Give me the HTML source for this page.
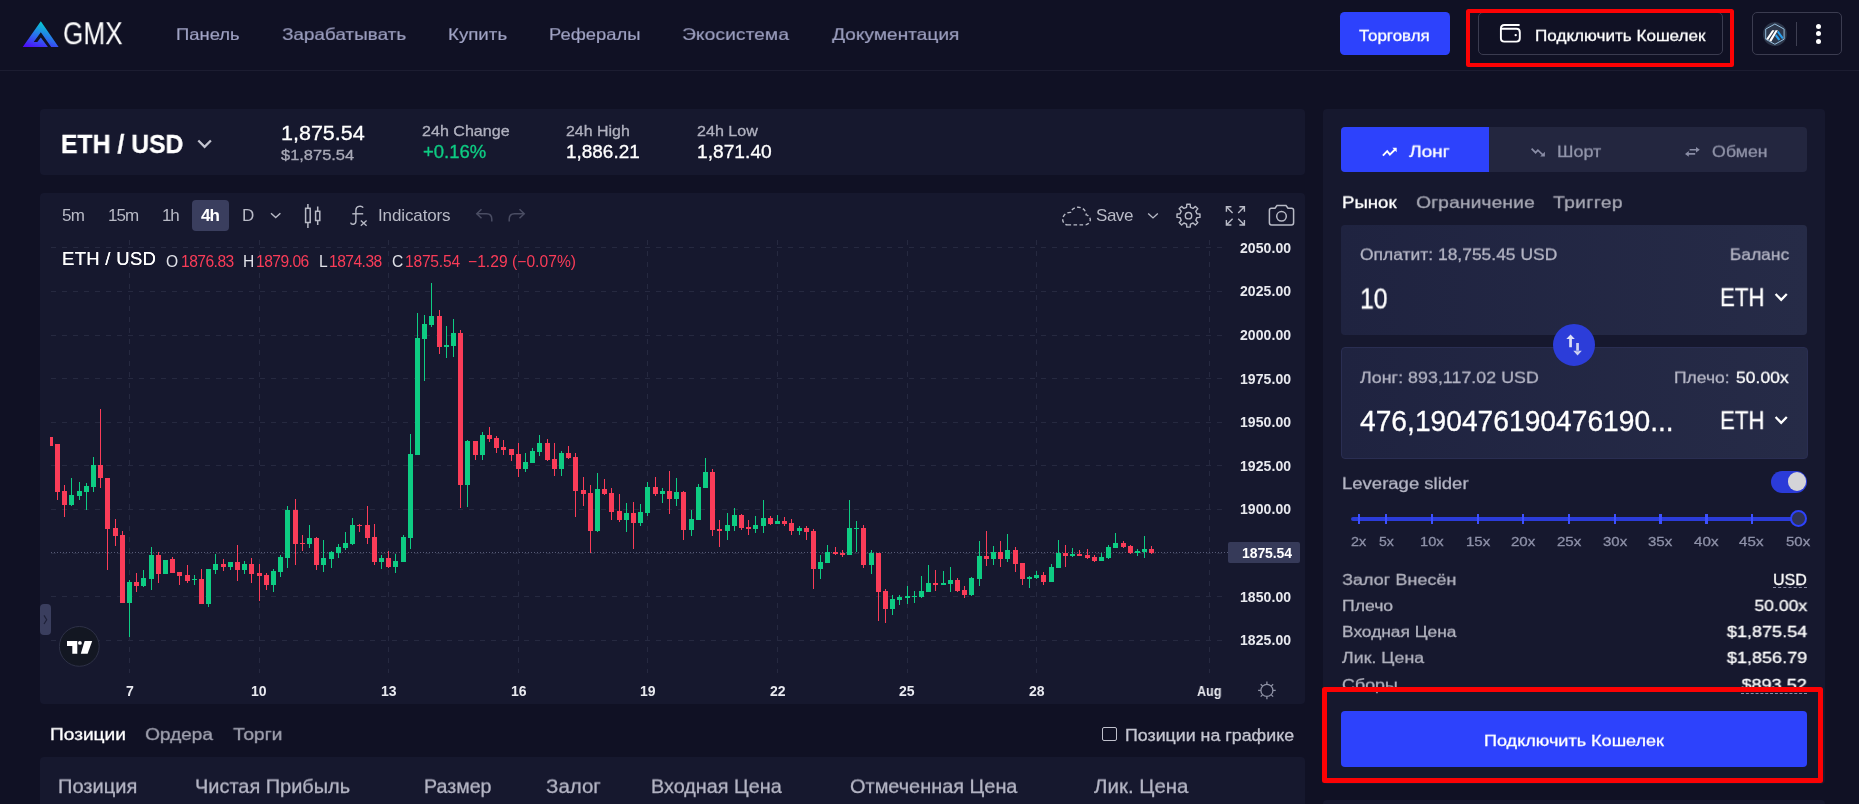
<!DOCTYPE html>
<html><head><meta charset="utf-8"><title>GMX</title>
<style>
html,body{margin:0;padding:0;}
html{width:1859px;height:804px;overflow:hidden;background:#101124;}
body{width:1859px;height:804px;overflow:hidden;background:#101124;position:relative;font-family:"Liberation Sans",sans-serif;}
.t{position:absolute;white-space:nowrap;line-height:1;will-change:transform;}
.r{position:absolute;display:block;}
</style></head><body>
<div class="r" style="left:0.00px;top:70.00px;width:1859.00px;height:1.00px;background:#1c1d31;"></div>
<svg class="r" style="left:22px;top:20px" width="38" height="28" viewBox="22 20 38 28">
<defs><linearGradient id="lg" x1="0.55" y1="0" x2="0.1" y2="1"><stop offset="0" stop-color="#03d1cf"/><stop offset="0.55" stop-color="#2c6bee"/><stop offset="1" stop-color="#4e09f8"/></linearGradient></defs>
<path fill="url(#lg)" fill-rule="evenodd" d="M40.82,21.3 L58.6,46.95 L22.75,46.95 Z M40.82,32.27 L33.72,41.96 L37.27,41.96 L40.82,37.44 L47.92,46.95 L51.15,46.95 Z"/></svg>
<div class="t" style="top:20.00px;font-size:28.5px;color:#ffffff;left:63.20px;transform:scale(0.9167,1.0684);transform-origin:0 24px;">GMX</div>
<div class="t" style="top:26.00px;font-size:16.5px;color:#a0a3c4;left:176.29px;transform:scale(1.1166,0.9799);transform-origin:0 14px;-webkit-text-stroke:0.18px #a0a3c4;">Панель</div>
<div class="t" style="top:26.00px;font-size:16.5px;color:#a0a3c4;left:282.09px;transform:scale(1.1454,0.9799);transform-origin:0 14px;-webkit-text-stroke:0.18px #a0a3c4;">Зарабатывать</div>
<div class="t" style="top:26.00px;font-size:16.5px;color:#a0a3c4;left:448.39px;transform:scale(1.1333,0.9799);transform-origin:0 14px;-webkit-text-stroke:0.18px #a0a3c4;">Купить</div>
<div class="t" style="top:26.00px;font-size:16.5px;color:#a0a3c4;left:549.29px;transform:scale(1.1139,0.9799);transform-origin:0 14px;-webkit-text-stroke:0.18px #a0a3c4;">Рефералы</div>
<div class="t" style="top:26.00px;font-size:16.5px;color:#a0a3c4;letter-spacing:0.101px;left:682.49px;transform:scale(1.1600,0.9799);transform-origin:0 14px;-webkit-text-stroke:0.18px #a0a3c4;">Экосистема</div>
<div class="t" style="top:26.00px;font-size:16.5px;color:#a0a3c4;left:831.59px;transform:scale(1.1593,0.9799);transform-origin:0 14px;-webkit-text-stroke:0.18px #a0a3c4;">Документация</div>
<div class="r" style="left:1340.00px;top:12.00px;width:110.00px;height:43.00px;background:#2d42fc;border-radius:4.5px;"></div>
<div class="t" style="top:28.00px;font-size:16px;color:#ffffff;left:1359.15px;transform:scale(1.0562,0.9333);transform-origin:0 13px;-webkit-text-stroke:0.3px #ffffff;">Торговля</div>
<div class="r" style="left:1478.00px;top:12.00px;width:245.00px;height:42.80px;background:transparent;border-radius:5px;border:1px solid #3b3c50;box-sizing:border-box;"></div>
<svg class="r" style="left:1498px;top:22px" width="26" height="23" viewBox="1498 22 26 23" fill="none" stroke="#fff" stroke-width="1.9">
<path d="M1519.6,25 H1504.4 C1502.2,25 1500.9,26.4 1500.9,28.6 V38.2 C1500.9,40.4 1502.2,41.6 1504.4,41.6 H1516.4 C1518.6,41.6 1519.8,40.4 1519.8,38.2 V32.2 C1519.8,30 1518.6,28.8 1516.4,28.8 H1501.4"/><circle cx="1515.7" cy="35.1" r="1.2" fill="#fff" stroke="none"/></svg>
<div class="t" style="top:28.00px;font-size:16px;color:#ffffff;left:1534.75px;transform:scale(1.0685,0.9333);transform-origin:0 13px;-webkit-text-stroke:0.3px #ffffff;">Подключить Кошелек</div>
<div class="r" style="left:1752.00px;top:12.00px;width:90.00px;height:42.80px;background:transparent;border-radius:5px;border:1px solid #3b3c50;box-sizing:border-box;"></div>
<svg class="r" style="left:1762px;top:21px" width="26" height="26" viewBox="1762 21 26 26">
<circle cx="1774.9" cy="34.15" r="11.9" fill="#2d374b"/>
<path d="M1774.9,24 L1784.1,29.1 V39.2 L1774.9,44.3 L1765.7,39.2 V29.1 Z" fill="none" stroke="#96bedc" stroke-width="1"/>
<path d="M1777.1,32.3 L1778.4,30.7 L1783.4,37.6 L1782.2,39.2 Z M1775,35.9 L1776.3,34.2 L1780.3,39.4 L1778.4,40.4 Z" fill="#28a0f0"/>
<path d="M1772.2,30.2 H1774.5 L1768.1,40 L1766.2,38.9 Z M1775.6,30.2 H1777.9 L1771.2,41.7 L1769.2,40.6 Z" fill="#fff"/>
</svg>
<div class="r" style="left:1795.80px;top:22.20px;width:1.20px;height:23.60px;background:#3e3f52;"></div>
<div class="r" style="left:1816.30px;top:24.10px;width:5.20px;height:5.20px;background:#ffffff;border-radius:2.6px;"></div>
<div class="r" style="left:1816.30px;top:31.30px;width:5.20px;height:5.20px;background:#ffffff;border-radius:2.6px;"></div>
<div class="r" style="left:1816.30px;top:38.50px;width:5.20px;height:5.20px;background:#ffffff;border-radius:2.6px;"></div>
<div class="r" style="left:1465.80px;top:9.00px;width:268.20px;height:58.10px;background:transparent;border-radius:2.5px;border:4.9px solid #fc0204;box-sizing:border-box;"></div>
<div class="r" style="left:40.00px;top:109.00px;width:1265.00px;height:65.70px;background:#16182e;border-radius:4px;"></div>
<div class="t" style="top:131.00px;font-size:26px;color:#ffffff;font-weight:700;left:60.65px;transform:scale(0.9519,1.0000);transform-origin:0 22px;-webkit-text-stroke:0.3px #ffffff;">ETH / USD</div>
<svg class="r" style="left:195px;top:137px" width="20" height="14" viewBox="195 137 20 14" fill="none" stroke="#c3c4d0" stroke-width="2.3"><path d="M198.3,140.5 L204.6,146.8 L210.9,140.5"/></svg>
<div class="t" style="top:124.00px;font-size:19.5px;color:#ffffff;left:281.35px;transform:scale(1.1032,1.0000);transform-origin:0 16px;-webkit-text-stroke:0.3px #ffffff;">1,875.54</div>
<div class="t" style="top:147.00px;font-size:15.5px;color:#a9aab8;left:281.35px;transform:scale(1.0605,1.0000);transform-origin:0 13px;-webkit-text-stroke:0.3px #a9aab8;">$1,875.54</div>
<div class="t" style="top:123.00px;font-size:15px;color:#b0b1bf;left:421.95px;transform:scale(1.0722,1.0000);transform-origin:0 13px;-webkit-text-stroke:0.3px #b0b1bf;">24h Change</div>
<div class="t" style="top:144.00px;font-size:17.5px;color:#0ecc83;left:422.65px;transform:scale(1.0554,1.0000);transform-origin:0 14px;-webkit-text-stroke:0.3px #0ecc83;">+0.16%</div>
<div class="t" style="top:123.00px;font-size:15px;color:#b0b1bf;left:566.15px;transform:scale(1.0617,1.0000);transform-origin:0 13px;-webkit-text-stroke:0.3px #b0b1bf;">24h High</div>
<div class="t" style="top:144.00px;font-size:17.5px;color:#ffffff;left:566.15px;transform:scale(1.0825,1.0000);transform-origin:0 14px;-webkit-text-stroke:0.3px #ffffff;">1,886.21</div>
<div class="t" style="top:123.00px;font-size:15px;color:#b0b1bf;left:697.15px;transform:scale(1.0746,1.0000);transform-origin:0 13px;-webkit-text-stroke:0.3px #b0b1bf;">24h Low</div>
<div class="t" style="top:144.00px;font-size:17.5px;color:#ffffff;left:697.15px;transform:scale(1.0971,1.0000);transform-origin:0 14px;-webkit-text-stroke:0.3px #ffffff;">1,871.40</div>
<div class="r" style="left:40.00px;top:192.70px;width:1265.00px;height:511.80px;background:#16182e;border-radius:4px;"></div>
<div class="t" style="top:207.00px;font-size:17px;color:#b8bac6;letter-spacing:-0.641px;left:61.70px;">5m</div>
<div class="t" style="top:207.00px;font-size:17px;color:#b8bac6;letter-spacing:-0.902px;left:107.80px;">15m</div>
<div class="t" style="top:207.00px;font-size:17px;color:#b8bac6;letter-spacing:-1.259px;left:161.70px;">1h</div>
<div class="r" style="left:192.00px;top:200.00px;width:36.80px;height:30.80px;background:#3a3e5e;border-radius:4px;"></div>
<div class="t" style="top:207.00px;font-size:17px;color:#ffffff;font-weight:700;letter-spacing:-1.022px;left:200.80px;">4h</div>
<div class="t" style="top:207.00px;font-size:17px;color:#b8bac6;left:241.70px;">D</div>
<svg class="r" style="left:268px;top:210px" width="16" height="10" viewBox="268 210 16 10" fill="none" stroke="#b8bac6" stroke-width="1.4"><path d="M271,213.2 L275.7,217.6 L280.4,213.2"/></svg>
<svg class="r" style="left:302px;top:202px" width="22" height="28" viewBox="302 202 22 28" fill="none" stroke="#b8bac6" stroke-width="1.5">
<rect x="305.6" y="208.3" width="4.6" height="14.2"/><path d="M307.9,204 V208.3 M307.9,222.5 V228"/>
<rect x="315.6" y="211.3" width="4.2" height="9.2"/><path d="M317.7,206.5 V211.3 M317.7,220.5 V225"/></svg>
<svg class="r" style="left:348px;top:203px" width="22" height="26" viewBox="348 203 22 26" fill="none" stroke="#b8bac6" stroke-width="1.4">
<path d="M350.6,222.6 C351,224.6 355.9,225.4 355.9,221 V210.2 C355.9,205.6 361.5,205.4 363.2,207.6"/><path d="M352.3,213.8 H363.2"/>
<path d="M360.8,220.4 L366.6,225.8 M366.6,220.4 L360.8,225.8" stroke-width="1.3"/></svg>
<div class="t" style="top:207.00px;font-size:17px;color:#b8bac6;letter-spacing:-0.120px;left:378.30px;">Indicators</div>
<svg class="r" style="left:474px;top:206px" width="54" height="20" viewBox="474 206 54 20" fill="none" stroke="#4a4d63" stroke-width="1.5">
<path d="M481.5,209.3 L476.8,213.8 L481.5,218.3"/><path d="M476.8,213.8 H486.5 C490.3,213.8 491.8,216.5 491.8,219.3 V221.5"/>
<path d="M519.5,209.3 L524.2,213.8 L519.5,218.3"/><path d="M524.2,213.8 H514.5 C510.7,213.8 509.2,216.5 509.2,219.3 V221.5"/></svg>
<svg class="r" style="left:1059px;top:203px" width="34" height="26" viewBox="1059 203 34 26" fill="none" stroke="#b8bac6" stroke-width="1.4" stroke-dasharray="3.6 2.4">
<path d="M1067.5,224.9 H1084.6 C1091.5,224.9 1092.3,216.3 1086.2,214.9 C1085.8,206 1073.5,204.3 1070.6,212.4 C1061.6,212 1059.8,224 1067.5,224.9 Z"/></svg>
<div class="t" style="top:207.00px;font-size:17px;color:#b8bac6;letter-spacing:-0.460px;left:1096.00px;">Save</div>
<svg class="r" style="left:1145px;top:210px" width="16" height="10" viewBox="1145 210 16 10" fill="none" stroke="#b8bac6" stroke-width="1.4"><path d="M1148.2,213.4 L1153,217.9 L1157.8,213.4"/></svg>
<svg class="r" style="left:1174px;top:201px" width="30" height="30" viewBox="1174 201 30 30" fill="none" stroke="#b8bac6" stroke-width="1.4" stroke-linejoin="round">
<path d="M1186.57,207.32 L1186.80,204.23 L1190.20,204.23 L1190.43,207.32 L1193.07,208.41 L1195.41,206.38 L1197.82,208.79 L1195.79,211.13 L1196.88,213.77 L1199.97,214.00 L1199.97,217.40 L1196.88,217.63 L1195.79,220.27 L1197.82,222.61 L1195.41,225.02 L1193.07,222.99 L1190.43,224.08 L1190.20,227.17 L1186.80,227.17 L1186.57,224.08 L1183.93,222.99 L1181.59,225.02 L1179.18,222.61 L1181.21,220.27 L1180.12,217.63 L1177.03,217.40 L1177.03,214.00 L1180.12,213.77 L1181.21,211.13 L1179.18,208.79 L1181.59,206.38 L1183.93,208.41 Z"/><circle cx="1188.5" cy="215.7" r="3.2"/></svg>
<svg class="r" style="left:1223px;top:203px" width="26" height="26" viewBox="1223 203 26 26" fill="none" stroke="#b8bac6" stroke-width="1.4">
<path d="M1226.4,211.8 V206.8 H1231.4 M1226.4,206.8 L1232.6,213"/><path d="M1239.4,206.8 H1244.4 V211.8 M1244.4,206.8 L1238.2,213"/>
<path d="M1226.4,220 V225 H1231.4 M1226.4,225 L1232.6,218.8"/><path d="M1239.4,225 H1244.4 V220 M1244.4,225 L1238.2,218.8"/></svg>
<svg class="r" style="left:1266px;top:202px" width="32" height="27" viewBox="1266 202 32 27" fill="none" stroke="#b8bac6" stroke-width="1.5">
<path d="M1271.5,208.3 H1275 L1277,205.5 H1286 L1288,208.3 H1291.5 C1292.8,208.3 1293.6,209.1 1293.6,210.4 V222.8 C1293.6,224.1 1292.8,224.9 1291.5,224.9 H1271.5 C1270.2,224.9 1269.4,224.1 1269.4,222.8 V210.4 C1269.4,209.1 1270.2,208.3 1271.5,208.3 Z"/><circle cx="1281.5" cy="216.3" r="4.8"/></svg>
<svg class="r" style="left:40px;top:236px" width="1265" height="468" viewBox="40 236 1265 468"><path d="M51,247.5 H1222" stroke="#262940" stroke-width="1" stroke-dasharray="5 6" fill="none"/><path d="M51,291.5 H1222" stroke="#262940" stroke-width="1" stroke-dasharray="5 6" fill="none"/><path d="M51,335.5 H1222" stroke="#262940" stroke-width="1" stroke-dasharray="5 6" fill="none"/><path d="M51,378.5 H1222" stroke="#262940" stroke-width="1" stroke-dasharray="5 6" fill="none"/><path d="M51,422.5 H1222" stroke="#262940" stroke-width="1" stroke-dasharray="5 6" fill="none"/><path d="M51,465.5 H1222" stroke="#262940" stroke-width="1" stroke-dasharray="5 6" fill="none"/><path d="M51,509.5 H1222" stroke="#262940" stroke-width="1" stroke-dasharray="5 6" fill="none"/><path d="M51,553.5 H1222" stroke="#262940" stroke-width="1" stroke-dasharray="5 6" fill="none"/><path d="M51,596.5 H1222" stroke="#262940" stroke-width="1" stroke-dasharray="5 6" fill="none"/><path d="M51,640.5 H1222" stroke="#262940" stroke-width="1" stroke-dasharray="5 6" fill="none"/><path d="M129.5,240 V673" stroke="#262940" stroke-width="1" stroke-dasharray="5 6" fill="none"/><path d="M259.5,240 V673" stroke="#262940" stroke-width="1" stroke-dasharray="5 6" fill="none"/><path d="M388.5,240 V673" stroke="#262940" stroke-width="1" stroke-dasharray="5 6" fill="none"/><path d="M518.5,240 V673" stroke="#262940" stroke-width="1" stroke-dasharray="5 6" fill="none"/><path d="M647.5,240 V673" stroke="#262940" stroke-width="1" stroke-dasharray="5 6" fill="none"/><path d="M777.5,240 V673" stroke="#262940" stroke-width="1" stroke-dasharray="5 6" fill="none"/><path d="M907.5,240 V673" stroke="#262940" stroke-width="1" stroke-dasharray="5 6" fill="none"/><path d="M1036.5,240 V673" stroke="#262940" stroke-width="1" stroke-dasharray="5 6" fill="none"/><path d="M1209.5,240 V673" stroke="#262940" stroke-width="1" stroke-dasharray="5 6" fill="none"/><path d="M51,552.5 H1228" stroke="#565a76" stroke-width="1" stroke-dasharray="1 2" fill="none"/><rect x="50" y="437" width="1" height="9" fill="#fa3c58"/><rect x="50" y="437" width="3" height="9" fill="#fa3c58"/><rect x="57" y="444" width="1" height="56" fill="#fa3c58"/><rect x="55" y="444" width="5" height="48" fill="#fa3c58"/><rect x="64" y="485" width="1" height="32" fill="#fa3c58"/><rect x="62" y="491" width="5" height="14" fill="#fa3c58"/><rect x="71" y="478" width="1" height="28" fill="#0ecc83"/><rect x="69" y="495" width="5" height="10" fill="#0ecc83"/><rect x="79" y="482" width="1" height="18" fill="#0ecc83"/><rect x="77" y="491" width="5" height="5" fill="#0ecc83"/><rect x="86" y="483" width="1" height="27" fill="#0ecc83"/><rect x="84" y="486" width="5" height="6" fill="#0ecc83"/><rect x="93" y="457" width="1" height="35" fill="#0ecc83"/><rect x="91" y="465" width="5" height="22" fill="#0ecc83"/><rect x="100" y="409" width="1" height="79" fill="#fa3c58"/><rect x="98" y="465" width="5" height="13" fill="#fa3c58"/><rect x="107" y="478" width="1" height="92" fill="#fa3c58"/><rect x="105" y="478" width="5" height="51" fill="#fa3c58"/><rect x="115" y="519" width="1" height="27" fill="#fa3c58"/><rect x="113" y="528" width="5" height="8" fill="#fa3c58"/><rect x="122" y="531" width="1" height="72" fill="#fa3c58"/><rect x="120" y="535" width="5" height="68" fill="#fa3c58"/><rect x="129" y="580" width="1" height="57" fill="#0ecc83"/><rect x="127" y="582" width="5" height="21" fill="#0ecc83"/><rect x="136" y="573" width="1" height="19" fill="#fa3c58"/><rect x="134" y="582" width="5" height="4" fill="#fa3c58"/><rect x="143" y="570" width="1" height="17" fill="#0ecc83"/><rect x="141" y="578" width="5" height="8" fill="#0ecc83"/><rect x="151" y="547" width="1" height="43" fill="#0ecc83"/><rect x="149" y="555" width="5" height="24" fill="#0ecc83"/><rect x="158" y="552" width="1" height="31" fill="#fa3c58"/><rect x="156" y="555" width="5" height="19" fill="#fa3c58"/><rect x="165" y="560" width="1" height="14" fill="#0ecc83"/><rect x="163" y="560" width="5" height="14" fill="#0ecc83"/><rect x="172" y="557" width="1" height="16" fill="#fa3c58"/><rect x="170" y="559" width="5" height="14" fill="#fa3c58"/><rect x="179" y="572" width="1" height="13" fill="#fa3c58"/><rect x="177" y="572" width="5" height="4" fill="#fa3c58"/><rect x="187" y="565" width="1" height="18" fill="#fa3c58"/><rect x="185" y="575" width="5" height="6" fill="#fa3c58"/><rect x="194" y="575" width="1" height="10" fill="#0ecc83"/><rect x="192" y="579" width="5" height="1" fill="#0ecc83"/><rect x="201" y="569" width="1" height="35" fill="#fa3c58"/><rect x="199" y="579" width="5" height="25" fill="#fa3c58"/><rect x="208" y="569" width="1" height="38" fill="#0ecc83"/><rect x="206" y="569" width="5" height="35" fill="#0ecc83"/><rect x="215" y="554" width="1" height="20" fill="#0ecc83"/><rect x="213" y="564" width="5" height="6" fill="#0ecc83"/><rect x="223" y="559" width="1" height="12" fill="#fa3c58"/><rect x="221" y="564" width="5" height="3" fill="#fa3c58"/><rect x="230" y="562" width="1" height="8" fill="#0ecc83"/><rect x="228" y="562" width="5" height="5" fill="#0ecc83"/><rect x="237" y="545" width="1" height="36" fill="#fa3c58"/><rect x="235" y="562" width="5" height="8" fill="#fa3c58"/><rect x="244" y="561" width="1" height="13" fill="#0ecc83"/><rect x="242" y="564" width="5" height="6" fill="#0ecc83"/><rect x="251" y="558" width="1" height="25" fill="#fa3c58"/><rect x="249" y="564" width="5" height="10" fill="#fa3c58"/><rect x="259" y="564" width="1" height="37" fill="#fa3c58"/><rect x="257" y="573" width="5" height="3" fill="#fa3c58"/><rect x="266" y="573" width="1" height="17" fill="#fa3c58"/><rect x="264" y="575" width="5" height="10" fill="#fa3c58"/><rect x="273" y="569" width="1" height="23" fill="#0ecc83"/><rect x="271" y="571" width="5" height="14" fill="#0ecc83"/><rect x="280" y="555" width="1" height="22" fill="#0ecc83"/><rect x="278" y="557" width="5" height="15" fill="#0ecc83"/><rect x="287" y="506" width="1" height="62" fill="#0ecc83"/><rect x="285" y="510" width="5" height="48" fill="#0ecc83"/><rect x="295" y="499" width="1" height="66" fill="#fa3c58"/><rect x="293" y="510" width="5" height="34" fill="#fa3c58"/><rect x="302" y="535" width="1" height="16" fill="#fa3c58"/><rect x="300" y="543" width="5" height="1" fill="#fa3c58"/><rect x="309" y="525" width="1" height="23" fill="#0ecc83"/><rect x="307" y="538" width="5" height="6" fill="#0ecc83"/><rect x="316" y="537" width="1" height="33" fill="#fa3c58"/><rect x="314" y="538" width="5" height="27" fill="#fa3c58"/><rect x="323" y="540" width="1" height="32" fill="#0ecc83"/><rect x="321" y="558" width="5" height="7" fill="#0ecc83"/><rect x="331" y="551" width="1" height="17" fill="#0ecc83"/><rect x="329" y="552" width="5" height="7" fill="#0ecc83"/><rect x="338" y="544" width="1" height="14" fill="#0ecc83"/><rect x="336" y="547" width="5" height="6" fill="#0ecc83"/><rect x="345" y="532" width="1" height="18" fill="#0ecc83"/><rect x="343" y="543" width="5" height="5" fill="#0ecc83"/><rect x="352" y="518" width="1" height="27" fill="#0ecc83"/><rect x="350" y="525" width="5" height="19" fill="#0ecc83"/><rect x="359" y="524" width="1" height="8" fill="#fa3c58"/><rect x="357" y="525" width="5" height="1" fill="#fa3c58"/><rect x="367" y="506" width="1" height="38" fill="#fa3c58"/><rect x="365" y="525" width="5" height="13" fill="#fa3c58"/><rect x="374" y="524" width="1" height="41" fill="#fa3c58"/><rect x="372" y="537" width="5" height="25" fill="#fa3c58"/><rect x="381" y="555" width="1" height="14" fill="#0ecc83"/><rect x="379" y="558" width="5" height="4" fill="#0ecc83"/><rect x="388" y="551" width="1" height="17" fill="#fa3c58"/><rect x="386" y="558" width="5" height="9" fill="#fa3c58"/><rect x="395" y="554" width="1" height="19" fill="#0ecc83"/><rect x="393" y="561" width="5" height="6" fill="#0ecc83"/><rect x="403" y="535" width="1" height="27" fill="#0ecc83"/><rect x="401" y="537" width="5" height="25" fill="#0ecc83"/><rect x="410" y="434" width="1" height="115" fill="#0ecc83"/><rect x="408" y="454" width="5" height="84" fill="#0ecc83"/><rect x="417" y="313" width="1" height="142" fill="#0ecc83"/><rect x="415" y="338" width="5" height="117" fill="#0ecc83"/><rect x="424" y="315" width="1" height="66" fill="#0ecc83"/><rect x="422" y="324" width="5" height="15" fill="#0ecc83"/><rect x="431" y="283" width="1" height="44" fill="#0ecc83"/><rect x="429" y="316" width="5" height="9" fill="#0ecc83"/><rect x="439" y="310" width="1" height="44" fill="#fa3c58"/><rect x="437" y="316" width="5" height="31" fill="#fa3c58"/><rect x="446" y="326" width="1" height="32" fill="#0ecc83"/><rect x="444" y="345" width="5" height="2" fill="#0ecc83"/><rect x="453" y="319" width="1" height="38" fill="#0ecc83"/><rect x="451" y="333" width="5" height="13" fill="#0ecc83"/><rect x="460" y="330" width="1" height="178" fill="#fa3c58"/><rect x="458" y="333" width="5" height="152" fill="#fa3c58"/><rect x="467" y="440" width="1" height="67" fill="#0ecc83"/><rect x="465" y="441" width="5" height="44" fill="#0ecc83"/><rect x="475" y="441" width="1" height="19" fill="#fa3c58"/><rect x="473" y="441" width="5" height="14" fill="#fa3c58"/><rect x="482" y="432" width="1" height="28" fill="#0ecc83"/><rect x="480" y="435" width="5" height="20" fill="#0ecc83"/><rect x="489" y="427" width="1" height="15" fill="#fa3c58"/><rect x="487" y="435" width="5" height="4" fill="#fa3c58"/><rect x="496" y="436" width="1" height="17" fill="#fa3c58"/><rect x="494" y="438" width="5" height="10" fill="#fa3c58"/><rect x="503" y="440" width="1" height="15" fill="#fa3c58"/><rect x="501" y="447" width="5" height="3" fill="#fa3c58"/><rect x="511" y="449" width="1" height="12" fill="#fa3c58"/><rect x="509" y="449" width="5" height="6" fill="#fa3c58"/><rect x="518" y="443" width="1" height="34" fill="#fa3c58"/><rect x="516" y="454" width="5" height="15" fill="#fa3c58"/><rect x="525" y="453" width="1" height="19" fill="#0ecc83"/><rect x="523" y="462" width="5" height="7" fill="#0ecc83"/><rect x="532" y="448" width="1" height="15" fill="#0ecc83"/><rect x="530" y="451" width="5" height="12" fill="#0ecc83"/><rect x="539" y="435" width="1" height="21" fill="#0ecc83"/><rect x="537" y="443" width="5" height="9" fill="#0ecc83"/><rect x="547" y="439" width="1" height="22" fill="#fa3c58"/><rect x="545" y="443" width="5" height="17" fill="#fa3c58"/><rect x="554" y="443" width="1" height="33" fill="#fa3c58"/><rect x="552" y="459" width="5" height="10" fill="#fa3c58"/><rect x="561" y="451" width="1" height="25" fill="#0ecc83"/><rect x="559" y="453" width="5" height="16" fill="#0ecc83"/><rect x="568" y="446" width="1" height="13" fill="#fa3c58"/><rect x="566" y="453" width="5" height="5" fill="#fa3c58"/><rect x="575" y="453" width="1" height="64" fill="#fa3c58"/><rect x="573" y="457" width="5" height="34" fill="#fa3c58"/><rect x="583" y="477" width="1" height="29" fill="#fa3c58"/><rect x="581" y="490" width="5" height="4" fill="#fa3c58"/><rect x="590" y="485" width="1" height="68" fill="#fa3c58"/><rect x="588" y="493" width="5" height="38" fill="#fa3c58"/><rect x="597" y="473" width="1" height="59" fill="#0ecc83"/><rect x="595" y="489" width="5" height="42" fill="#0ecc83"/><rect x="604" y="479" width="1" height="16" fill="#fa3c58"/><rect x="602" y="489" width="5" height="5" fill="#fa3c58"/><rect x="611" y="488" width="1" height="32" fill="#fa3c58"/><rect x="609" y="493" width="5" height="19" fill="#fa3c58"/><rect x="619" y="494" width="1" height="28" fill="#fa3c58"/><rect x="617" y="511" width="5" height="9" fill="#fa3c58"/><rect x="626" y="503" width="1" height="29" fill="#0ecc83"/><rect x="624" y="513" width="5" height="7" fill="#0ecc83"/><rect x="633" y="502" width="1" height="47" fill="#fa3c58"/><rect x="631" y="513" width="5" height="10" fill="#fa3c58"/><rect x="640" y="504" width="1" height="22" fill="#0ecc83"/><rect x="638" y="512" width="5" height="11" fill="#0ecc83"/><rect x="647" y="482" width="1" height="34" fill="#0ecc83"/><rect x="645" y="487" width="5" height="26" fill="#0ecc83"/><rect x="655" y="477" width="1" height="19" fill="#fa3c58"/><rect x="653" y="487" width="5" height="7" fill="#fa3c58"/><rect x="662" y="488" width="1" height="15" fill="#0ecc83"/><rect x="660" y="491" width="5" height="3" fill="#0ecc83"/><rect x="669" y="471" width="1" height="43" fill="#fa3c58"/><rect x="667" y="491" width="5" height="8" fill="#fa3c58"/><rect x="676" y="478" width="1" height="28" fill="#0ecc83"/><rect x="674" y="492" width="5" height="7" fill="#0ecc83"/><rect x="683" y="491" width="1" height="49" fill="#fa3c58"/><rect x="681" y="492" width="5" height="38" fill="#fa3c58"/><rect x="691" y="510" width="1" height="26" fill="#0ecc83"/><rect x="689" y="519" width="5" height="11" fill="#0ecc83"/><rect x="698" y="484" width="1" height="36" fill="#0ecc83"/><rect x="696" y="487" width="5" height="33" fill="#0ecc83"/><rect x="705" y="458" width="1" height="30" fill="#0ecc83"/><rect x="703" y="472" width="5" height="16" fill="#0ecc83"/><rect x="712" y="469" width="1" height="67" fill="#fa3c58"/><rect x="710" y="472" width="5" height="58" fill="#fa3c58"/><rect x="719" y="520" width="1" height="27" fill="#fa3c58"/><rect x="717" y="529" width="5" height="2" fill="#fa3c58"/><rect x="727" y="513" width="1" height="27" fill="#0ecc83"/><rect x="725" y="525" width="5" height="6" fill="#0ecc83"/><rect x="734" y="508" width="1" height="23" fill="#0ecc83"/><rect x="732" y="515" width="5" height="11" fill="#0ecc83"/><rect x="741" y="514" width="1" height="16" fill="#fa3c58"/><rect x="739" y="515" width="5" height="13" fill="#fa3c58"/><rect x="748" y="520" width="1" height="15" fill="#fa3c58"/><rect x="746" y="527" width="5" height="2" fill="#fa3c58"/><rect x="755" y="516" width="1" height="17" fill="#0ecc83"/><rect x="753" y="525" width="5" height="4" fill="#0ecc83"/><rect x="763" y="500" width="1" height="33" fill="#0ecc83"/><rect x="761" y="518" width="5" height="8" fill="#0ecc83"/><rect x="770" y="516" width="1" height="9" fill="#fa3c58"/><rect x="768" y="518" width="5" height="6" fill="#fa3c58"/><rect x="777" y="515" width="1" height="9" fill="#0ecc83"/><rect x="775" y="521" width="5" height="3" fill="#0ecc83"/><rect x="784" y="517" width="1" height="9" fill="#fa3c58"/><rect x="782" y="521" width="5" height="3" fill="#fa3c58"/><rect x="791" y="519" width="1" height="16" fill="#fa3c58"/><rect x="789" y="523" width="5" height="8" fill="#fa3c58"/><rect x="799" y="526" width="1" height="9" fill="#0ecc83"/><rect x="797" y="528" width="5" height="3" fill="#0ecc83"/><rect x="806" y="526" width="1" height="14" fill="#fa3c58"/><rect x="804" y="528" width="5" height="4" fill="#fa3c58"/><rect x="813" y="529" width="1" height="60" fill="#fa3c58"/><rect x="811" y="531" width="5" height="38" fill="#fa3c58"/><rect x="820" y="555" width="1" height="24" fill="#0ecc83"/><rect x="818" y="562" width="5" height="7" fill="#0ecc83"/><rect x="827" y="545" width="1" height="18" fill="#0ecc83"/><rect x="825" y="552" width="5" height="11" fill="#0ecc83"/><rect x="835" y="547" width="1" height="8" fill="#fa3c58"/><rect x="833" y="552" width="5" height="2" fill="#fa3c58"/><rect x="842" y="550" width="1" height="7" fill="#fa3c58"/><rect x="840" y="553" width="5" height="2" fill="#fa3c58"/><rect x="849" y="500" width="1" height="55" fill="#0ecc83"/><rect x="847" y="528" width="5" height="27" fill="#0ecc83"/><rect x="856" y="521" width="1" height="31" fill="#0ecc83"/><rect x="854" y="528" width="5" height="1" fill="#0ecc83"/><rect x="863" y="525" width="1" height="43" fill="#fa3c58"/><rect x="861" y="528" width="5" height="37" fill="#fa3c58"/><rect x="871" y="550" width="1" height="24" fill="#0ecc83"/><rect x="869" y="553" width="5" height="12" fill="#0ecc83"/><rect x="878" y="553" width="1" height="68" fill="#fa3c58"/><rect x="876" y="553" width="5" height="39" fill="#fa3c58"/><rect x="885" y="589" width="1" height="34" fill="#fa3c58"/><rect x="883" y="591" width="5" height="18" fill="#fa3c58"/><rect x="892" y="595" width="1" height="20" fill="#0ecc83"/><rect x="890" y="599" width="5" height="10" fill="#0ecc83"/><rect x="899" y="595" width="1" height="10" fill="#0ecc83"/><rect x="897" y="597" width="5" height="3" fill="#0ecc83"/><rect x="907" y="586" width="1" height="18" fill="#0ecc83"/><rect x="905" y="596" width="5" height="2" fill="#0ecc83"/><rect x="914" y="591" width="1" height="12" fill="#0ecc83"/><rect x="912" y="596" width="5" height="1" fill="#0ecc83"/><rect x="921" y="576" width="1" height="22" fill="#0ecc83"/><rect x="919" y="591" width="5" height="6" fill="#0ecc83"/><rect x="928" y="565" width="1" height="27" fill="#0ecc83"/><rect x="926" y="583" width="5" height="9" fill="#0ecc83"/><rect x="935" y="570" width="1" height="21" fill="#fa3c58"/><rect x="933" y="583" width="5" height="2" fill="#fa3c58"/><rect x="943" y="571" width="1" height="14" fill="#0ecc83"/><rect x="941" y="583" width="5" height="2" fill="#0ecc83"/><rect x="950" y="567" width="1" height="25" fill="#0ecc83"/><rect x="948" y="580" width="5" height="4" fill="#0ecc83"/><rect x="957" y="578" width="1" height="14" fill="#fa3c58"/><rect x="955" y="580" width="5" height="11" fill="#fa3c58"/><rect x="964" y="586" width="1" height="12" fill="#fa3c58"/><rect x="962" y="590" width="5" height="5" fill="#fa3c58"/><rect x="971" y="577" width="1" height="19" fill="#0ecc83"/><rect x="969" y="578" width="5" height="17" fill="#0ecc83"/><rect x="979" y="541" width="1" height="45" fill="#0ecc83"/><rect x="977" y="556" width="5" height="23" fill="#0ecc83"/><rect x="986" y="531" width="1" height="35" fill="#fa3c58"/><rect x="984" y="556" width="5" height="3" fill="#fa3c58"/><rect x="993" y="546" width="1" height="19" fill="#0ecc83"/><rect x="991" y="552" width="5" height="7" fill="#0ecc83"/><rect x="1000" y="541" width="1" height="26" fill="#fa3c58"/><rect x="998" y="552" width="5" height="7" fill="#fa3c58"/><rect x="1007" y="534" width="1" height="28" fill="#0ecc83"/><rect x="1005" y="550" width="5" height="9" fill="#0ecc83"/><rect x="1015" y="547" width="1" height="25" fill="#fa3c58"/><rect x="1013" y="550" width="5" height="14" fill="#fa3c58"/><rect x="1022" y="563" width="1" height="22" fill="#fa3c58"/><rect x="1020" y="563" width="5" height="16" fill="#fa3c58"/><rect x="1029" y="576" width="1" height="12" fill="#0ecc83"/><rect x="1027" y="577" width="5" height="2" fill="#0ecc83"/><rect x="1036" y="571" width="1" height="8" fill="#0ecc83"/><rect x="1034" y="575" width="5" height="3" fill="#0ecc83"/><rect x="1043" y="572" width="1" height="13" fill="#fa3c58"/><rect x="1041" y="575" width="5" height="7" fill="#fa3c58"/><rect x="1051" y="564" width="1" height="18" fill="#0ecc83"/><rect x="1049" y="567" width="5" height="15" fill="#0ecc83"/><rect x="1058" y="540" width="1" height="28" fill="#0ecc83"/><rect x="1056" y="553" width="5" height="15" fill="#0ecc83"/><rect x="1065" y="545" width="1" height="22" fill="#fa3c58"/><rect x="1063" y="553" width="5" height="3" fill="#fa3c58"/><rect x="1072" y="548" width="1" height="9" fill="#0ecc83"/><rect x="1070" y="554" width="5" height="2" fill="#0ecc83"/><rect x="1079" y="550" width="1" height="6" fill="#fa3c58"/><rect x="1077" y="554" width="5" height="2" fill="#fa3c58"/><rect x="1087" y="549" width="1" height="10" fill="#fa3c58"/><rect x="1085" y="555" width="5" height="3" fill="#fa3c58"/><rect x="1094" y="555" width="1" height="7" fill="#fa3c58"/><rect x="1092" y="557" width="5" height="4" fill="#fa3c58"/><rect x="1101" y="553" width="1" height="8" fill="#0ecc83"/><rect x="1099" y="557" width="5" height="4" fill="#0ecc83"/><rect x="1108" y="545" width="1" height="14" fill="#0ecc83"/><rect x="1106" y="547" width="5" height="11" fill="#0ecc83"/><rect x="1115" y="533" width="1" height="15" fill="#0ecc83"/><rect x="1113" y="543" width="5" height="5" fill="#0ecc83"/><rect x="1123" y="541" width="1" height="7" fill="#fa3c58"/><rect x="1121" y="543" width="5" height="4" fill="#fa3c58"/><rect x="1130" y="545" width="1" height="9" fill="#fa3c58"/><rect x="1128" y="546" width="5" height="7" fill="#fa3c58"/><rect x="1137" y="549" width="1" height="7" fill="#0ecc83"/><rect x="1135" y="551" width="5" height="2" fill="#0ecc83"/><rect x="1144" y="536" width="1" height="22" fill="#0ecc83"/><rect x="1142" y="549" width="5" height="3" fill="#0ecc83"/><rect x="1151" y="546" width="1" height="8" fill="#fa3c58"/><rect x="1149" y="549" width="5" height="4" fill="#fa3c58"/></svg>
<div class="t" style="top:250.00px;font-size:18.5px;color:#ffffff;letter-spacing:0.307px;left:62.20px;text-shadow:0 0 0.6px #fff;">ETH / USD</div>
<div class="t" style="top:254.00px;font-size:15.6px;color:#e0e1e8;left:165.80px;">O</div>
<div class="t" style="top:254.00px;font-size:15.6px;color:#fa3c58;letter-spacing:-0.518px;left:181.30px;">1876.83</div>
<div class="t" style="top:254.00px;font-size:15.6px;color:#e0e1e8;left:242.80px;">H</div>
<div class="t" style="top:254.00px;font-size:15.6px;color:#fa3c58;letter-spacing:-0.518px;left:255.50px;">1879.06</div>
<div class="t" style="top:254.00px;font-size:15.6px;color:#e0e1e8;left:318.60px;">L</div>
<div class="t" style="top:254.00px;font-size:15.6px;color:#fa3c58;letter-spacing:-0.518px;left:329.00px;">1874.38</div>
<div class="t" style="top:254.00px;font-size:15.6px;color:#e0e1e8;left:392.00px;">C</div>
<div class="t" style="top:254.00px;font-size:15.6px;color:#fa3c58;letter-spacing:-0.218px;left:405.00px;">1875.54</div>
<div class="t" style="top:254.00px;font-size:15.6px;color:#fa3c58;letter-spacing:0.039px;left:467.50px;">−1.29 (−0.07%)</div>
<div class="t" style="top:241.00px;font-size:14px;color:#e8e9ef;font-weight:700;letter-spacing:0.078px;left:1240.00px;">2050.00</div>
<div class="t" style="top:284.00px;font-size:14px;color:#e8e9ef;font-weight:700;letter-spacing:0.078px;left:1240.00px;">2025.00</div>
<div class="t" style="top:328.00px;font-size:14px;color:#e8e9ef;font-weight:700;letter-spacing:0.078px;left:1240.00px;">2000.00</div>
<div class="t" style="top:372.00px;font-size:14px;color:#e8e9ef;font-weight:700;letter-spacing:0.078px;left:1240.00px;">1975.00</div>
<div class="t" style="top:415.00px;font-size:14px;color:#e8e9ef;font-weight:700;letter-spacing:0.078px;left:1240.00px;">1950.00</div>
<div class="t" style="top:459.00px;font-size:14px;color:#e8e9ef;font-weight:700;letter-spacing:0.078px;left:1240.00px;">1925.00</div>
<div class="t" style="top:502.00px;font-size:14px;color:#e8e9ef;font-weight:700;letter-spacing:0.078px;left:1240.00px;">1900.00</div>
<div class="t" style="top:590.00px;font-size:14px;color:#e8e9ef;font-weight:700;letter-spacing:0.078px;left:1240.00px;">1850.00</div>
<div class="t" style="top:633.00px;font-size:14px;color:#e8e9ef;font-weight:700;letter-spacing:0.078px;left:1240.00px;">1825.00</div>
<div class="r" style="left:1228.00px;top:542.00px;width:71.80px;height:21.00px;background:#363a59;border-radius:2px;"></div>
<div class="t" style="top:546.00px;font-size:14px;color:#ffffff;font-weight:700;letter-spacing:-0.092px;left:1242.00px;">1875.54</div>
<div class="t" style="top:684.00px;font-size:14px;color:#e8e9ef;font-weight:700;left:125.56px;">7</div>
<div class="t" style="top:684.00px;font-size:14px;color:#e8e9ef;font-weight:700;left:251.33px;">10</div>
<div class="t" style="top:684.00px;font-size:14px;color:#e8e9ef;font-weight:700;left:380.93px;">13</div>
<div class="t" style="top:684.00px;font-size:14px;color:#e8e9ef;font-weight:700;left:510.53px;">16</div>
<div class="t" style="top:684.00px;font-size:14px;color:#e8e9ef;font-weight:700;left:640.13px;">19</div>
<div class="t" style="top:684.00px;font-size:14px;color:#e8e9ef;font-weight:700;left:769.73px;">22</div>
<div class="t" style="top:684.00px;font-size:14px;color:#e8e9ef;font-weight:700;left:899.33px;">25</div>
<div class="t" style="top:684.00px;font-size:14px;color:#e8e9ef;font-weight:700;left:1028.93px;">28</div>
<div class="t" style="top:684.00px;font-size:14px;color:#e8e9ef;font-weight:700;left:1196.90px;transform:scale(0.8995,1.0000);transform-origin:0 12px;">Aug</div>
<svg class="r" style="left:1255px;top:679px" width="24" height="24" viewBox="1255 679 24 24" fill="none" stroke="#8f92a5" stroke-width="1.3"><circle cx="1266.9" cy="690.4" r="6"/><path d="M1272.90,690.40 L1275.70,690.40"/><path d="M1271.14,694.64 L1273.12,696.62"/><path d="M1266.90,696.40 L1266.90,699.20"/><path d="M1262.66,694.64 L1260.68,696.62"/><path d="M1260.90,690.40 L1258.10,690.40"/><path d="M1262.66,686.16 L1260.68,684.18"/><path d="M1266.90,684.40 L1266.90,681.60"/><path d="M1271.14,686.16 L1273.12,684.18"/></svg>
<svg class="r" style="left:57px;top:624px" width="45" height="45" viewBox="57 624 45 45"><circle cx="79.3" cy="646.4" r="19.9" fill="#131722" stroke="#2e3147" stroke-width="1"/>
<path d="M67,641 H77.3 V653.7 H72.3 V646 H67 Z" fill="#fff"/><circle cx="79.9" cy="642.9" r="1.9" fill="#fff"/><path d="M84.6,641 H92.2 L87.6,653.7 H80.8 Z" fill="#fff"/></svg>
<div class="r" style="left:40.00px;top:603.80px;width:10.70px;height:31.20px;background:#3a3e5e;border-radius:4px;"></div>
<svg class="r" style="left:40px;top:612px" width="11" height="16" viewBox="40 612 11 16" fill="none" stroke="#1e2038" stroke-width="1.2"><path d="M44,615.4 L46.7,619.7 L44,624"/></svg>
<div class="t" style="top:726.00px;font-size:16.5px;color:#ffffff;left:49.95px;transform:scale(1.1591,0.9866);transform-origin:0 14px;-webkit-text-stroke:0.3px #ffffff;">Позиции</div>
<div class="t" style="top:726.00px;font-size:16.5px;color:#a3a4b2;left:145.45px;transform:scale(1.1551,0.9866);transform-origin:0 14px;-webkit-text-stroke:0.3px #a3a4b2;">Ордера</div>
<div class="t" style="top:726.00px;font-size:16.5px;color:#a3a4b2;letter-spacing:0.033px;left:232.95px;transform:scale(1.1600,0.9866);transform-origin:0 14px;-webkit-text-stroke:0.3px #a3a4b2;">Торги</div>
<div class="r" style="left:1102.00px;top:727.20px;width:14.80px;height:14.00px;background:transparent;border-radius:2px;border:1.6px solid #c0c1cc;box-sizing:border-box;"></div>
<div class="t" style="top:727.00px;font-size:16.5px;color:#c4c5d0;left:1125.15px;transform:scale(1.0788,1.0033);transform-origin:0 14px;-webkit-text-stroke:0.3px #c4c5d0;">Позиции на графике</div>
<div class="r" style="left:40.00px;top:756.80px;width:1265.00px;height:47.20px;background:#16182e;border-radius:4px 4px 0 0;"></div>
<div class="t" style="top:777.00px;font-size:19.5px;color:#b4b5c4;left:58.35px;transform:scale(1.0287,0.9643);transform-origin:0 16px;-webkit-text-stroke:0.3px #b4b5c4;">Позиция</div>
<div class="t" style="top:777.00px;font-size:19.5px;color:#b4b5c4;left:194.65px;transform:scale(1.0228,0.9643);transform-origin:0 16px;-webkit-text-stroke:0.3px #b4b5c4;">Чистая Прибыль</div>
<div class="t" style="top:777.00px;font-size:19.5px;color:#b4b5c4;left:423.65px;transform:scale(1.0070,0.9643);transform-origin:0 16px;-webkit-text-stroke:0.3px #b4b5c4;">Размер</div>
<div class="t" style="top:777.00px;font-size:19.5px;color:#b4b5c4;left:545.55px;transform:scale(1.0499,0.9643);transform-origin:0 16px;-webkit-text-stroke:0.3px #b4b5c4;">Залог</div>
<div class="t" style="top:777.00px;font-size:19.5px;color:#b4b5c4;left:651.15px;transform:scale(1.0165,0.9643);transform-origin:0 16px;-webkit-text-stroke:0.3px #b4b5c4;">Входная Цена</div>
<div class="t" style="top:777.00px;font-size:19.5px;color:#b4b5c4;left:850.15px;transform:scale(1.0212,0.9643);transform-origin:0 16px;-webkit-text-stroke:0.3px #b4b5c4;">Отмеченная Цена</div>
<div class="t" style="top:777.00px;font-size:19.5px;color:#b4b5c4;left:1094.15px;transform:scale(1.0500,0.9643);transform-origin:0 16px;-webkit-text-stroke:0.3px #b4b5c4;">Лик. Цена</div>
<div class="r" style="left:1323.00px;top:109.00px;width:502.00px;height:675.00px;background:#16182e;border-radius:4px;"></div>
<div class="r" style="left:1323.00px;top:799.50px;width:502.00px;height:4.50px;background:#16182e;border-radius:4px 4px 0 0;"></div>
<div class="r" style="left:1341.00px;top:127.00px;width:466.00px;height:44.60px;background:#23263f;border-radius:4px;"></div>
<div class="r" style="left:1341.00px;top:127.00px;width:148.00px;height:44.60px;background:#2d42fc;border-radius:4px 0 0 4px;"></div>
<svg class="r" style="left:1380px;top:144px" width="20" height="16" viewBox="1380 144 20 16"><path d="M1382.9,155.7 L1387.2,151.1 L1389.9,154.6 L1395,149.5" fill="none" stroke="#fff" stroke-width="1.9" stroke-linejoin="miter"/><path d="M1392.4,147.8 H1396.7 V152.3 Z" fill="#fff"/></svg>
<div class="t" style="top:143.00px;font-size:16.5px;color:#ffffff;left:1408.65px;transform:scale(1.1551,0.9532);transform-origin:0 14px;-webkit-text-stroke:0.3px #ffffff;">Лонг</div>
<svg class="r" style="left:1528px;top:144px" width="20" height="16" viewBox="1528 144 20 16"><path d="M1531.6,148.6 L1535.6,152.7 L1537.9,150.2 L1543,155" fill="none" stroke="#8a8da6" stroke-width="1.7"/><path d="M1544.9,151.7 V156.4 H1540.2 Z" fill="#8a8da6"/></svg>
<div class="t" style="top:143.00px;font-size:16.5px;color:#9295aa;left:1557.45px;transform:scale(1.0900,0.9532);transform-origin:0 14px;-webkit-text-stroke:0.3px #9295aa;">Шорт</div>
<svg class="r" style="left:1682px;top:143px" width="22" height="18" viewBox="1682 143 22 18"><path d="M1689.6,149.7 H1697 M1695.2,153.9 H1687.8" fill="none" stroke="#8a8da6" stroke-width="1.6"/><path d="M1696,146.9 L1699.8,149.7 L1696,152.5 Z M1688.8,151.1 L1685,153.9 L1688.8,156.7 Z" fill="#8a8da6"/></svg>
<div class="t" style="top:143.00px;font-size:16.5px;color:#9295aa;left:1712.05px;transform:scale(1.0764,0.9532);transform-origin:0 14px;-webkit-text-stroke:0.3px #9295aa;">Обмен</div>
<div class="t" style="top:194.00px;font-size:16.5px;color:#ffffff;left:1341.65px;transform:scale(1.1287,0.9699);transform-origin:0 14px;-webkit-text-stroke:0.3px #ffffff;">Рынок</div>
<div class="t" style="top:194.00px;font-size:16.5px;color:#a9aab6;letter-spacing:0.144px;left:1415.85px;transform:scale(1.1600,0.9699);transform-origin:0 14px;-webkit-text-stroke:0.3px #a9aab6;">Ограничение</div>
<div class="t" style="top:194.00px;font-size:16.5px;color:#a9aab6;letter-spacing:0.404px;left:1553.35px;transform:scale(1.1600,0.9699);transform-origin:0 14px;-webkit-text-stroke:0.3px #a9aab6;">Триггер</div>
<div class="r" style="left:1341.00px;top:225.40px;width:466.00px;height:109.40px;background:linear-gradient(90deg,#1f2340,#262b47);border-radius:4px;"></div>
<div class="t" style="top:246.00px;font-size:16.5px;color:#b4b5c4;left:1359.65px;transform:scale(1.0570,0.9615);transform-origin:0 14px;-webkit-text-stroke:0.3px #b4b5c4;">Оплатит: 18,755.45 USD</div>
<div class="t" style="top:246.00px;font-size:16.5px;color:#b4b5c4;right:70.28px;transform:scale(1.0569,0.9615);transform-origin:100% 14px;-webkit-text-stroke:0.3px #b4b5c4;">Баланс</div>
<div class="t" style="top:285.00px;font-size:28px;color:#ffffff;left:1359.65px;transform:scale(0.8853,1.0211);transform-origin:0 23px;-webkit-text-stroke:0.3px #ffffff;">10</div>
<div class="t" style="top:285.00px;font-size:25px;color:#ffffff;left:1720.15px;transform:scale(0.8880,0.9833);transform-origin:0 21px;-webkit-text-stroke:0.3px #ffffff;">ETH</div>
<svg class="r" style="left:1772px;top:290px" width="18" height="14" viewBox="1772 290 18 14" fill="none" stroke="#fff" stroke-width="2.3"><path d="M1775.6,294 L1781.2,299.8 L1786.8,294"/></svg>
<div class="r" style="left:1341.00px;top:347.00px;width:466.70px;height:111.60px;background:linear-gradient(90deg,#1f2340,#262b47);border-radius:4px;border:1px solid #2a2e52;box-sizing:border-box;"></div>
<div class="t" style="top:369.00px;font-size:16.5px;color:#b4b5c4;left:1359.55px;transform:scale(1.0830,0.9448);transform-origin:0 14px;-webkit-text-stroke:0.3px #b4b5c4;">Лонг: 893,117.02 USD</div>
<div class="t" style="top:369.00px;font-size:16.5px;color:#b4b5c4;left:1673.85px;transform:scale(1.0610,0.9448);transform-origin:0 14px;-webkit-text-stroke:0.3px #b4b5c4;">Плечо:</div>
<div class="t" style="top:369.00px;font-size:16.5px;color:#ffffff;left:1736.05px;transform:scale(1.0626,0.9448);transform-origin:0 14px;-webkit-text-stroke:0.3px #ffffff;">50.00x</div>
<div class="t" style="top:408.00px;font-size:28px;color:#ffffff;left:1359.55px;transform:scale(1.0071,1.0263);transform-origin:0 23px;-webkit-text-stroke:0.3px #ffffff;">476,190476190476190...</div>
<div class="t" style="top:408.00px;font-size:25px;color:#ffffff;left:1720.15px;transform:scale(0.8880,0.9833);transform-origin:0 21px;-webkit-text-stroke:0.3px #ffffff;">ETH</div>
<svg class="r" style="left:1772px;top:413px" width="18" height="14" viewBox="1772 413 18 14" fill="none" stroke="#fff" stroke-width="2.3"><path d="M1775.6,417 L1781.2,422.8 L1786.8,417"/></svg>
<svg class="r" style="left:1552px;top:323px" width="44" height="44" viewBox="1552 323 44 44"><circle cx="1574" cy="344.9" r="21" fill="#2c3dd9"/>
<path d="M1569.2,338.6 H1571.9 V347.2 H1569.2 Z M1566.3,339.1 L1570.55,334.5 L1574.8,339.1 Z" fill="#dcdff6"/>
<path d="M1576.2,342.9 H1578.9 V351.2 H1576.2 Z M1573.3,350.8 L1577.55,355.4 L1581.8,350.8 Z" fill="#cdd1f2"/></svg>
<div class="t" style="top:475.00px;font-size:16.5px;color:#b4b5c4;left:1341.85px;transform:scale(1.1220,0.9783);transform-origin:0 14px;-webkit-text-stroke:0.3px #b4b5c4;">Leverage slider</div>
<div class="r" style="left:1771.00px;top:471.00px;width:35.80px;height:22.00px;background:#2b3bd8;border-radius:11px;"></div>
<div class="r" style="left:1787.70px;top:472.20px;width:18.40px;height:18.40px;background:#d4d4d8;border-radius:9.2px;"></div>
<div class="r" style="left:1351.20px;top:516.80px;width:446.40px;height:4.10px;background:#2b3cda;border-radius:2px;"></div>
<div class="r" style="left:1358.30px;top:514.00px;width:2.20px;height:10.00px;background:#3d50ff;"></div>
<div class="r" style="left:1385.20px;top:514.00px;width:2.20px;height:10.00px;background:#3d50ff;"></div>
<div class="r" style="left:1430.80px;top:514.00px;width:2.20px;height:10.00px;background:#3d50ff;"></div>
<div class="r" style="left:1476.80px;top:514.00px;width:2.20px;height:10.00px;background:#3d50ff;"></div>
<div class="r" style="left:1522.20px;top:514.00px;width:2.20px;height:10.00px;background:#3d50ff;"></div>
<div class="r" style="left:1567.80px;top:514.00px;width:2.20px;height:10.00px;background:#3d50ff;"></div>
<div class="r" style="left:1613.80px;top:514.00px;width:2.20px;height:10.00px;background:#3d50ff;"></div>
<div class="r" style="left:1659.40px;top:514.00px;width:2.20px;height:10.00px;background:#3d50ff;"></div>
<div class="r" style="left:1705.40px;top:514.00px;width:2.20px;height:10.00px;background:#3d50ff;"></div>
<div class="r" style="left:1751.10px;top:514.00px;width:2.20px;height:10.00px;background:#3d50ff;"></div>
<div class="r" style="left:1789.60px;top:510.30px;width:17.20px;height:17.20px;background:#2f3354;border-radius:8.6px;border:2.1px solid #2d42fc;box-sizing:border-box;"></div>
<div class="t" style="top:535.00px;font-size:13px;color:#8e91a8;left:1350.85px;transform:scale(1.1077,1.0000);transform-origin:0 11px;-webkit-text-stroke:0.3px #8e91a8;">2x</div>
<div class="t" style="top:535.00px;font-size:13px;color:#8e91a8;left:1378.95px;transform:scale(1.0787,1.0000);transform-origin:0 11px;-webkit-text-stroke:0.3px #8e91a8;">5x</div>
<div class="t" style="top:535.00px;font-size:13px;color:#8e91a8;left:1420.15px;transform:scale(1.1280,1.0000);transform-origin:0 11px;-webkit-text-stroke:0.3px #8e91a8;">10x</div>
<div class="t" style="top:535.00px;font-size:13px;color:#8e91a8;left:1465.75px;transform:scale(1.1567,1.0000);transform-origin:0 11px;-webkit-text-stroke:0.3px #8e91a8;">15x</div>
<div class="t" style="top:535.00px;font-size:13px;color:#8e91a8;left:1511.15px;transform:scale(1.1567,1.0000);transform-origin:0 11px;-webkit-text-stroke:0.3px #8e91a8;">20x</div>
<div class="t" style="top:535.00px;font-size:13px;color:#8e91a8;left:1556.85px;transform:scale(1.1567,1.0000);transform-origin:0 11px;-webkit-text-stroke:0.3px #8e91a8;">25x</div>
<div class="t" style="top:535.00px;font-size:13px;color:#8e91a8;left:1602.55px;transform:scale(1.1519,1.0000);transform-origin:0 11px;-webkit-text-stroke:0.3px #8e91a8;">30x</div>
<div class="t" style="top:535.00px;font-size:13px;color:#8e91a8;left:1648.45px;transform:scale(1.1567,1.0000);transform-origin:0 11px;-webkit-text-stroke:0.3px #8e91a8;">35x</div>
<div class="t" style="top:535.00px;font-size:13px;color:#8e91a8;letter-spacing:0.056px;left:1693.85px;transform:scale(1.1600,1.0000);transform-origin:0 11px;-webkit-text-stroke:0.3px #8e91a8;">40x</div>
<div class="t" style="top:535.00px;font-size:13px;color:#8e91a8;letter-spacing:0.099px;left:1739.45px;transform:scale(1.1600,1.0000);transform-origin:0 11px;-webkit-text-stroke:0.3px #8e91a8;">45x</div>
<div class="t" style="top:535.00px;font-size:13px;color:#8e91a8;left:1785.75px;transform:scale(1.1519,1.0000);transform-origin:0 11px;-webkit-text-stroke:0.3px #8e91a8;">50x</div>
<div class="t" style="top:572.00px;font-size:16px;color:#b2b3bf;left:1341.85px;transform:scale(1.1271,0.9250);transform-origin:0 13px;-webkit-text-stroke:0.3px #b2b3bf;">Залог Внесён</div>
<div class="t" style="top:572.00px;font-size:16px;color:#ffffff;right:52.02px;transform:scale(0.9985,0.9250);transform-origin:100% 13px;-webkit-text-stroke:0.3px #ffffff;">USD</div>
<div class="t" style="top:598.00px;font-size:16px;color:#b2b3bf;left:1341.85px;transform:scale(1.1011,0.9250);transform-origin:0 13px;-webkit-text-stroke:0.3px #b2b3bf;">Плечо</div>
<div class="t" style="top:598.00px;font-size:16px;color:#ffffff;right:52.01px;transform:scale(1.0938,0.9250);transform-origin:100% 13px;-webkit-text-stroke:0.3px #ffffff;">50.00x</div>
<div class="t" style="top:624.00px;font-size:16px;color:#b2b3bf;left:1341.85px;transform:scale(1.0844,0.9250);transform-origin:0 13px;-webkit-text-stroke:0.3px #b2b3bf;">Входная Цена</div>
<div class="t" style="top:624.00px;font-size:16px;color:#ffffff;right:52.13px;transform:scale(1.1298,0.9250);transform-origin:100% 13px;-webkit-text-stroke:0.3px #ffffff;">$1,875.54</div>
<div class="t" style="top:650.00px;font-size:16px;color:#b2b3bf;left:1341.85px;transform:scale(1.1108,0.9250);transform-origin:0 13px;-webkit-text-stroke:0.3px #b2b3bf;">Лик. Цена</div>
<div class="t" style="top:650.00px;font-size:16px;color:#ffffff;right:52.13px;transform:scale(1.1298,0.9250);transform-origin:100% 13px;-webkit-text-stroke:0.3px #ffffff;">$1,856.79</div>
<div class="t" style="top:677.00px;font-size:16px;color:#b2b3bf;left:1341.85px;transform:scale(1.1140,0.9250);transform-origin:0 13px;-webkit-text-stroke:0.3px #b2b3bf;">Сборы</div>
<div class="t" style="top:677.00px;font-size:16px;color:#ffffff;right:51.95px;transform:scale(1.1307,0.9250);transform-origin:100% 13px;-webkit-text-stroke:0.3px #ffffff;">$893.52</div>
<div class="r" style="left:1772.80px;top:587.30px;width:34.00px;height:0.00px;background:transparent;border-top:1.5px dashed #8a8da6;"></div>
<div class="r" style="left:1741.20px;top:692.80px;width:65.60px;height:0.00px;background:transparent;border-top:1.5px dashed #8a8da6;"></div>
<div class="r" style="left:1322.00px;top:686.70px;width:501.30px;height:96.30px;background:transparent;border-radius:2.5px;border:5.1px solid #fc0204;box-sizing:border-box;"></div>
<div class="r" style="left:1341.20px;top:711.10px;width:465.80px;height:55.60px;background:#2d42fc;border-radius:4px;"></div>
<div class="t" style="top:733.00px;font-size:16px;color:#ffffff;left:1483.95px;transform:scale(1.1280,0.9333);transform-origin:0 13px;-webkit-text-stroke:0.3px #ffffff;">Подключить Кошелек</div>
</body></html>
